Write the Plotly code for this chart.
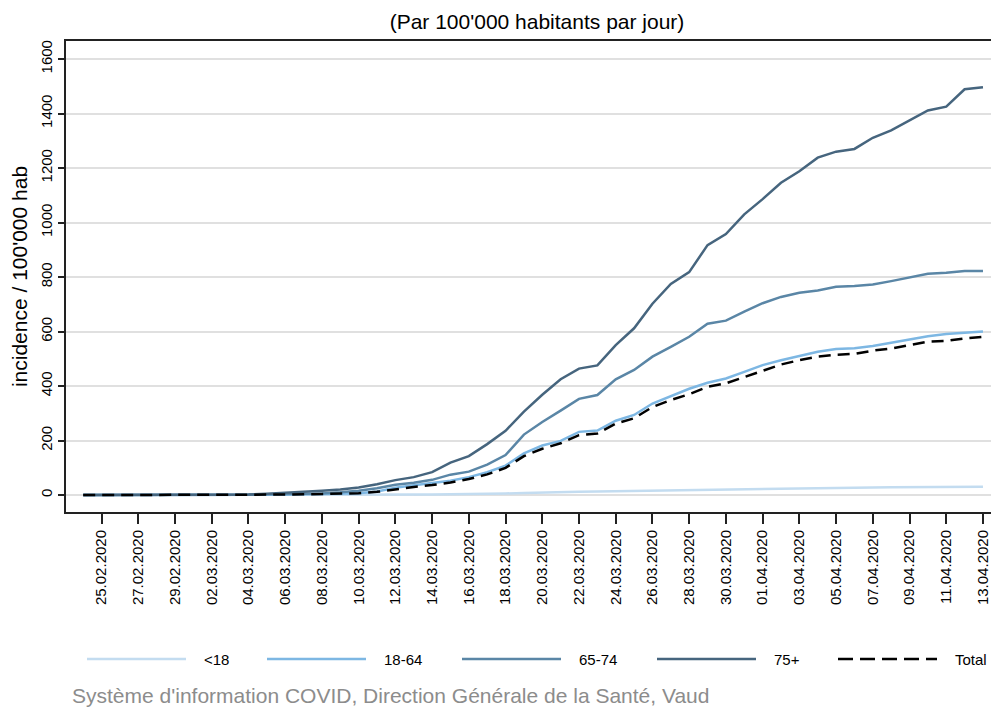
import pandas as pd
import plotly.graph_objects as go

# daily incidence per 100'000 inhabitants, Vaud, 24.02.2020 -> 13.04.2020
dates = pd.date_range("2020-02-24", "2020-04-13", freq="D")

under_18 = [0, 0, 0, 0, 0, 0, 0, 0, 0, 0, 0, 0, 0, 0, 0,
            0.5, 1, 1.5, 2, 2.5, 3, 3.5, 4, 6, 8, 10, 11, 12, 13, 14,
            15, 16, 17, 19, 20, 22, 23, 24, 25, 26, 27, 27.5, 28, 28, 28.5,
            29, 30, 30, 30.5, 31]

age_18_64 = [0, 0, 0, 0, 0, 0, 0, 0.3, 0.5, 1, 1, 2, 3, 4, 5,
             7, 13, 27, 36, 45, 53, 66, 84, 108, 153, 182, 199, 232, 237, 273,
             294, 336, 363, 390, 412, 428, 452, 477, 495, 510, 526, 536, 539, 547, 559,
             571, 583, 591, 596, 600]

age_65_74 = [0, 0, 0, 0, 0, 0, 0, 0.5, 1, 1, 3, 4, 5, 6, 10,
             16, 25, 38, 45, 56, 75, 86, 112, 147, 222, 268, 310, 353, 367, 425,
             459, 508, 544, 581, 629, 640, 673, 704, 727, 742, 751, 764, 767, 773, 785,
             798, 812, 816, 822, 822]

age_75_plus = [0, 0, 0, 0, 0, 0.5, 0.5, 1, 1, 2, 5, 8, 11, 16, 21,
               28, 40, 55, 66, 84, 119, 143, 187, 236, 306, 368, 425, 464, 476, 550,
               612, 702, 775, 818, 917, 958, 1030, 1086, 1146, 1188, 1238, 1260, 1270, 1311, 1338,
               1374, 1411, 1425, 1489, 1496]

total = [0, 0, 0, 0, 0, 0, 0, 0.3, 0.5, 1, 1, 2, 3, 4, 5,
         7, 12, 22, 30, 37, 46, 59, 76, 100, 143, 170, 190, 220, 226, 262,
         282, 323, 349, 370, 397, 410, 434, 456, 479, 495, 508, 515, 518, 530, 538,
         550, 563, 566, 575, 581]

series = [
    ("<18", under_18, "#c3dcf0", "solid"),
    ("18-64", age_18_64, "#7db7e3", "solid"),
    ("65-74", age_65_74, "#5a86a6", "solid"),
    ("75+", age_75_plus, "#46657e", "solid"),
    ("Total", total, "#000000", "12px,7px"),
]

FONT = "Liberation Sans, Arial, sans-serif"
# the page body has an 8px margin, so keep the figure small enough to avoid scrollbars
OFF = 8
W, H = 984, 702
# plot area, in screen pixels
L, R, T, B = 66, 991, 41, 512


def px_to_paper(x, y):
    return (x - L) / (R - L), (B - y) / (B - T)


fig = go.Figure()
for name, vals, color, dash in series:
    fig.add_trace(go.Scatter(x=dates, y=vals, name=name, mode="lines",
                             line=dict(color=color, width=2.5, dash=dash),
                             showlegend=False))

# hand-drawn legend with long line samples, like the original
legend_x = [87, 267, 462, 657, 838]
legend_y = 659
shapes = []
annotations = []
for (name, _, color, dash), x0 in zip(series, legend_x):
    xa, ya = px_to_paper(x0, legend_y)
    xb, _ = px_to_paper(x0 + 99, legend_y)
    shapes.append(dict(type="line", xref="paper", yref="paper", x0=xa, x1=xb, y0=ya, y1=ya,
                       line=dict(color=color, width=2.5,
                                 dash="15px,7px" if dash != "solid" else dash)))
    xt, _ = px_to_paper(x0 + 115, legend_y)
    annotations.append(dict(text=name, xref="paper", yref="paper", x=xt, y=ya,
                            xanchor="left", yanchor="middle", showarrow=False,
                            font=dict(size=15, color="#000", family=FONT)))

fx, fy = px_to_paper(70, 695)
annotations.append(dict(text="Système d'information COVID, Direction Générale de la Santé, Vaud",
                        xref="paper", yref="paper", x=fx, y=fy, xanchor="left", yanchor="middle",
                        showarrow=False, font=dict(size=21, color="#8c8c8c", family=FONT)))

fig.update_layout(
    width=W, height=H,
    margin=dict(l=L - OFF, r=W - (R - OFF), t=T - OFF, b=H - (B - OFF)),
    paper_bgcolor="white", plot_bgcolor="white",
    font=dict(family=FONT, color="#000"),
    title=dict(text="(Par 100'000 habitants par jour)", x=(537 - OFF) / W, xanchor="center",
               y=1 - (22 - OFF) / H, yanchor="middle", font=dict(size=21)),
    shapes=shapes, annotations=annotations,
    showlegend=False,
)

fig.update_xaxes(
    type="date", automargin=False,
    range=["2020-02-23 01:30", "2020-04-13 10:30"],
    tick0="2020-02-25", dtick=2 * 86400000, tickformat="%d.%m.%Y",
    tickangle=-90, tickfont=dict(size=15),
    ticks="outside", ticklen=10, tickwidth=1.5, tickcolor="#222",
    showline=True, linecolor="#222", linewidth=2, mirror=True,
    showgrid=False, zeroline=False,
)
fig.update_yaxes(
    automargin=False,
    range=[-62, 1666], tick0=0, dtick=200,
    tickangle=-90, tickfont=dict(size=15),
    ticks="outside", ticklen=6, tickwidth=1.5, tickcolor="#222",
    showline=True, linecolor="#222", linewidth=2,
    showgrid=True, gridcolor="#e0e0e0", gridwidth=2, zeroline=False,
    title=dict(text="incidence / 100'000 hab", font=dict(size=21), standoff=8),
)

fig.write_html("out.html")
